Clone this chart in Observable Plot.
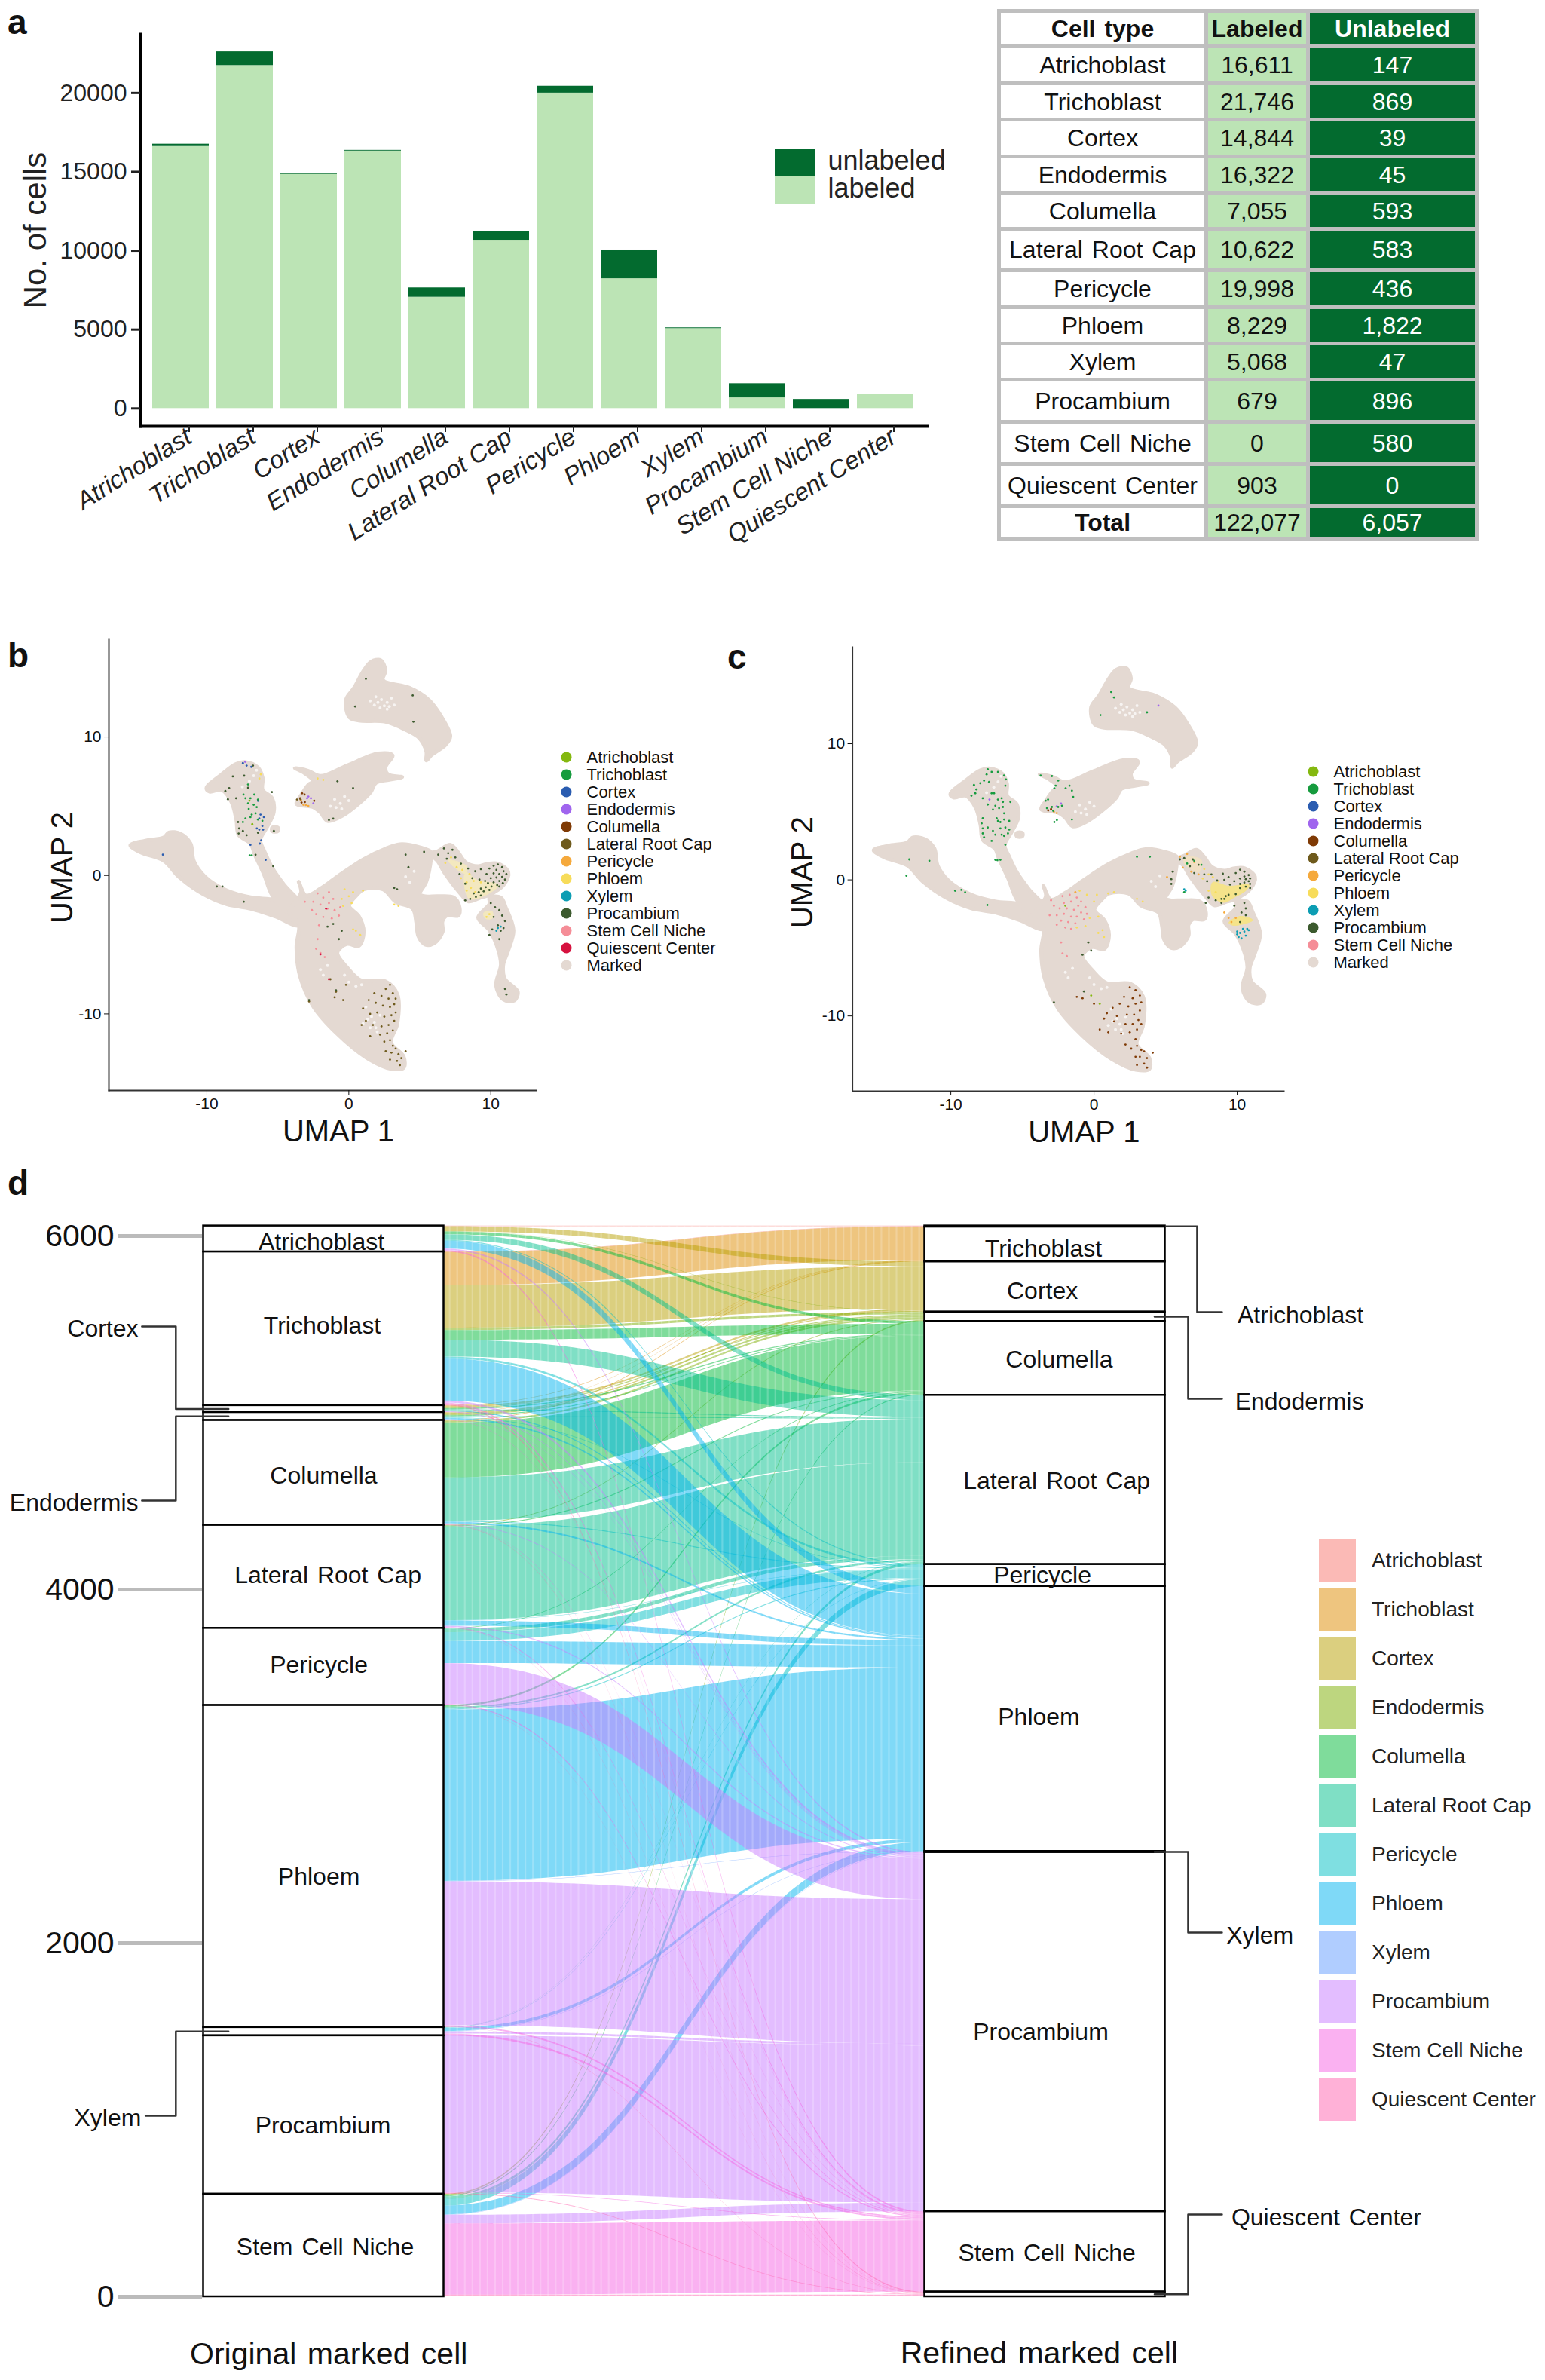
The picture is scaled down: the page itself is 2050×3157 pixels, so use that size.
<!DOCTYPE html>
<html><head><meta charset="utf-8">
<script src="https://cdn.jsdelivr.net/npm/d3@7"></script>
<script src="https://cdn.jsdelivr.net/npm/@observablehq/plot@0.6"></script>
<style>
html,body{margin:0;padding:0;background:#fff}
#page{position:relative;width:2050px;height:3157px;overflow:hidden;font-family:"Liberation Sans",Arial,sans-serif;color:#111}
.letter{position:absolute;font-weight:bold;font-size:46px;line-height:46px}
#tbl{position:absolute;left:1323px;top:12px;border-collapse:collapse;table-layout:fixed;font-size:32px;text-align:center}
#tbl td{border:5px solid #bfbfbf;padding:0;word-spacing:3px;line-height:1;white-space:nowrap;overflow:hidden}
#tbl .lab{background:#bce4b5}
#tbl .unl{background:#036b2f;color:#fff}
#tbl .b{font-weight:bold}
svg{max-width:none!important}
</style></head><body><div id="page"></div>
<script>
const FONT='"Liberation Sans",Arial,sans-serif';
/* ---------- panel a and table data ---------- */
const cellTypes=["Atrichoblast","Trichoblast","Cortex","Endodermis","Columella","Lateral Root Cap","Pericycle","Phloem","Xylem","Procambium","Stem Cell Niche","Quiescent Center"];
const labeled=[16611,21746,14844,16322,7055,10622,19998,8229,5068,679,0,903];
const unlabeled=[147,869,39,45,593,583,436,1822,47,896,580,0];
const totals=["122,077","6,057"];
const yTicksA=[0,5000,10000,15000,20000];
const rowHeights=[47,49,48,49,48,48,55,49,48,48,56,56,56,43];

/* ---------- UMAP outline, traced in UMAP units ---------- */
const shapeTop=[[1.56,15.43],[2.24,15.55],[2.58,14.8],[2.41,14.1],[4.27,13.55],[5.63,12.68],[6.47,11.55],[7.15,10.05],[6.81,9.43],[5.8,8.68],[5.46,8.3],[5.46,8.93],[4.95,9.93],[3.93,10.55],[2.58,11.1],[0.71,11.18],[0.03,11.43],[-0.2,12.68],[0.37,13.55],[1.05,14.8]];
const shapeMid=[[-3.8,7.75],[-2.85,7.55],[-2,7.18],[-0.14,7.93],[2.07,8.8],[3.08,8.68],[2.58,7.8],[2.75,7.3],[3.76,7.1],[2.92,6.93],[1.9,6.68],[1.56,6.05],[0.54,5.05],[-0.47,4.3],[-1.49,3.93],[-2,4.55],[-2.51,4.93],[-3.69,5.18],[-3.36,5.8],[-2.85,6.55],[-2.51,6.8],[-3.19,7.43]];
const shapeArm=[[-15.39,2.18],[-14.37,2.5],[-13.02,2.75],[-12.68,3.1],[-11.83,3.0],[-11.15,2.3],[-10.92,1.05],[-10.14,-0.08],[-8.61,-1.08],[-6.92,-1.58],[-5.22,-1.75],[-3.5,-2.2],[-3.5,-3.6],[-5.22,-2.95],[-6.92,-2.4],[-8.61,-2.08],[-10.3,-1.33],[-12,-0.08],[-13.02,1.05],[-14.71,1.68]];
const shapeWedge=[[-10.03,6.3],[-8.95,7.3],[-7.93,8.05],[-7.25,8.18],[-6.41,7.8],[-6.07,7.05],[-6.07,6.18],[-5.39,5.55],[-5.29,4.55],[-5.73,3.55],[-6.24,2.55],[-5.97,1.8],[-5.39,0.55],[-4.54,-0.7],[-3.36,-2.2],[-4.2,-2.7],[-5.39,-1.45],[-5.97,0.05],[-6.64,1.55],[-6.92,2.3],[-7.76,2.93],[-7.93,4.05],[-8.27,5.3],[-8.95,6.18],[-9.8,6.05]];
const shapeBody=[[-3.53,-0.45],[-3.02,-1.45],[-2,-0.95],[-0.81,-0.08],[1.05,1.18],[2.58,1.93],[3.59,2.25],[4.95,2.05],[5.8,1.68],[5.8,1.3],[5.46,-0.45],[5,-1.35],[5.3,-1.5],[6.3,-1.5],[7.4,-1.6],[7.8,-2.3],[7.7,-2.9],[6.9,-2.9],[6.6,-3.3],[6.6,-4.1],[6,-4.9],[5.4,-5],[4.9,-4.4],[4.75,-3.4],[4.5,-2.4],[3.3,-1.9],[2.41,-1],[1.05,-1],[0.54,-1.45],[0.03,-2.2],[0.71,-2.95],[1.05,-4.08],[0.71,-5.08],[-0.14,-4.95],[-0.81,-5.58],[-0.07,-6.7],[0.88,-7.58],[2.58,-7.65],[3.42,-8.58],[3.42,-10.7],[2.98,-12.08],[3.86,-13.08],[3.86,-13.9],[2.92,-13.95],[1.22,-13.15],[-0.81,-11.45],[-2.51,-9.45],[-3.46,-7.2],[-3.69,-5.2],[-3.53,-3.45],[-4.2,-2.7],[-3.36,-1.2]];
const shapeArc=[[5.8,1.55],[6.28,1.76],[7.16,2.21],[7.7,1.67],[8.23,0.94],[9.1,0.67],[9.82,0.85],[10.53,0.85],[11.24,0.22],[10.9,-0.69],[9.9,-1.4],[9.29,-1.6],[8.4,-1.87],[7.87,-1.33],[6.72,0.22],[6.28,1]];
const shapeTail=[[9.91,-1.6],[10.71,-1.6],[11.06,-2.32],[11.6,-3.96],[11.22,-5.45],[10.88,-6.45],[10.98,-7.45],[11.9,-8.4],[11.66,-9.03],[10.88,-8.95],[10.37,-7.95],[10.71,-6.45],[10.53,-5.41],[9.91,-3.96],[9.11,-3.05],[9.91,-2.05]];
const shapeSpeck=[[-5.4,3.45],[-5,3.45],[-5,3.2],[-5.4,3.2]];
const umapShapes=[shapeTop,shapeMid,shapeArm,shapeWedge,shapeBody,shapeArc,shapeTail,shapeSpeck];
const umapGaps=[[1.9,12.9],[2.3,12.7],[2.7,12.5],[1.8,12.3],[2.2,12.1],[2.7,12],[3,12.8],[3.2,12.3],[1.5,12.6],[2.05,12.5],[2.5,12.25],[2.85,12.2],[1.3,-10.4],[1.8,-10.6],[2.2,-10.1],[1.5,-11],[2,-11.3],[0.5,-8],[0.9,-7.9],[-0.3,-7.2],[0,-7.7],[1.2,-9.5],[1.6,-10.2],[1.9,-11],[1,-10.7],[-1,5.5],[-0.6,5.2],[-0.3,5.7],[-1.3,5],[0,5.4],[-0.9,4.9],[-0.5,4.8],[-7,6.8],[-6.7,7.2],[-7.5,6.4],[-6.5,7.6],[-2,-6.8],[-1.5,-6.5],[-1.8,-7.2],[4,-0.1],[4.3,-0.5],[4.6,0.3]];

const patchB=[[[8.23,0.22],[9.02,-0.33],[10.53,-0.69],[9.65,-1.42],[8.49,-1.69],[8.14,-0.69]],[[6.99,1.12],[8.3,0.67],[8.23,0.13],[7.34,0.67]],[[9.5,-2.7],[10.1,-2.6],[10.1,-3.1],[9.6,-3.1]]];
const patchC=[[[8.28,-0.19],[9.42,-0.47],[10.82,-0.37],[10.65,-0.74],[9.77,-1.3],[9.07,-1.66],[8.28,-1.2]],[[9.42,-3.14],[10.21,-2.68],[11.09,-2.96],[10.47,-3.23],[9.68,-3.33]]];
const patchCup=[[[6.44,1.66],[7.49,1.47],[7.32,0.55],[6.26,1.29]]];

/* marked cells */
const bTrichoblast=[[-7.42,5.84],[-7.28,5.57],[-6.93,5.57],[-7.1,5.2],[-6.66,5.84],[-6.4,5.48],[-6.49,4.93],[-6.84,4.39],[-6.57,4.48],[-6.4,4.03],[-6.93,4.21],[-7.28,4.12],[-6.09,3.94],[-7.46,3.85],[-7.1,6.57],[-6.98,1.45],[-6.84,1.45],[-6.7,5.1],[-7.05,4.8]];
const bCortex=[[-7.46,8.11],[-7.2,7.93],[-6.87,7.84],[-6.4,5.39],[-6.22,4.39],[-6.31,4.12],[-5.99,4.21],[-6.09,3.57],[-6.31,3.3],[-6.04,3.3],[-6.48,3.39],[-6.17,2.54],[-6.93,2.21],[-6.27,2.3],[-5.86,1.12],[-13.1,1.5]];
const bEndodermis=[[-2.85,5.7],[-2.67,5.57],[-2.5,5.2],[-2.94,5.57],[-7.3,8.2]];
const bColumella=[[-3.29,5.93],[-3.43,5.57],[-3.33,5.26],[-3.12,5.84],[-2.44,5.39],[-3.1,5.3]];
const bLRC=[[2.9,-7.9],[2.6,-8.2],[3.1,-8.5],[3.3,-8.9],[2.8,-8.9],[2.3,-8.7],[1.8,-8.5],[3.2,-9.3],[2.9,-9.5],[2.4,-9.4],[1.9,-9.2],[1.4,-9],[3.3,-9.9],[3,-10.1],[2.5,-10.2],[2,-9.9],[1.5,-10],[1,-9.6],[3.2,-10.5],[2.8,-10.8],[2.3,-10.9],[1.7,-10.8],[1.2,-10.5],[3.1,-11.2],[2.7,-11.4],[2.2,-11.5],[1.5,-11.6],[0.9,-10.8],[2.9,-11.9],[2.5,-12],[3.1,-12.3],[3.3,-12.5],[3.5,-12.9],[3,-12.8],[2.6,-12.7],[3.7,-13.2],[3.4,-13.4],[2.9,-13.3],[3.6,-13.7],[4,-12.7],[-0.2,-7.9],[-0.9,-8.4],[-1,-8.8],[-0.4,-9],[-2.8,-9.1],[-1.3,-7.5],[-3.65,5.48],[-3.4,5.5]];
const bPericycle=[[-3.03,5.08],[-3.38,5.44],[-2.85,5.02],[-3.2,5.1]];
const bPhloem=[[-0.5,-1.7],[0,-1.5],[0.3,-1.2],[-0.3,-1],[0.2,-2],[-0.4,-2.2],[0.5,-4],[0.8,-4.3],[0.3,-3.9],[3.2,-2.1],[3.5,-2.2],[7.2,1.3],[6.8,0.9],[7.6,0.6],[8,0.4],[7.9,-0.2],[8.3,-0.5],[8.6,-0.9],[8.3,-1.1],[8.8,-0.4],[8.5,0.1],[9.3,-0.5],[8.9,-1.2],[-6.2,7.3],[-6.3,7],[-2.2,7],[-1.8,6.9],[1,-1.1],[9.7,-3],[9.9,-2.8]];
const bProcambium=[[10.5,0.8],[10.2,0.7],[10.8,0.6],[9.9,0.5],[10.4,0.4],[10.9,0.3],[11.1,0.1],[10.6,0.1],[10.2,0.15],[9.7,0.1],[10.8,-0.1],[10.4,-0.15],[10,-0.2],[11,-0.3],[10.6,-0.4],[10.2,-0.5],[9.8,-0.55],[10.85,-0.55],[10.45,-0.7],[10.05,-0.8],[9.65,-0.85],[9.3,-0.95],[10.6,-0.8],[9.9,-1.05],[9.5,-1.15],[9.15,-1.2],[8.8,-1.3],[9.3,-1.45],[8.95,-1.55],[8.55,-1.7],[8.2,-1.8],[9.6,-0.4],[9.2,-0.3],[8.7,-0.2],[8.9,0.3],[9.3,0.45],[8.4,0.5],[7.9,0.85],[7.5,1.3],[7,1.6],[6.7,1.95],[6.3,1.5],[7.3,1.85],[6.9,1.2],[8.2,-0.6],[7.8,0.1],[10,-2],[10.3,-2.3],[10.6,-2.5],[10.8,-2.9],[10.2,-3],[10.5,-3.6],[10.7,-4],[10.9,-3.8],[11,-3.3],[10.1,-3.9],[9.9,-4.3],[10.6,-4.6],[-7.8,3.85],[-7.73,3.39],[-7.76,3.03],[-7.46,3.21],[-7.2,2.9],[-6.4,3.08],[-8.17,7.15],[-7.37,7.2],[-8.43,6.3],[-8.7,6.1],[-8.52,5.5],[-7.94,5.57],[-6.75,7.93],[-7.1,6.33],[-5.42,6.02],[-6.57,1.49],[-5.33,0.67],[-5.28,3.21],[5.3,1.7],[4.2,0.6],[4,1.5],[3.4,-1],[3.2,-0.9],[1.2,14.2],[0.45,12.2],[4.5,13],[4.55,11.1],[-0.8,6.8],[0.3,6.3],[-1.1,-3.5],[-1.5,-3.7],[-0.5,-4],[-0.7,-4.6],[-8.9,-0.8],[-9.3,-0.8],[-7.4,-1.9],[-2.8,-9],[-0.9,-8.3],[11,-8.2],[11.1,-8.6],[-1.1,4.1],[-1.4,4]];
const bSCN=[[-2.2,-1.3],[-1.8,-1.6],[-1.4,-1.2],[-1.1,-1.7],[-2,-2.1],[-1.5,-2.4],[-1,-2.5],[-0.6,-2.3],[-2.3,-2.8],[-1.8,-3],[-1.2,-3.1],[-2.1,-3.6],[-2.2,-4.6],[-2.3,-5.3],[-2,-5.6],[-1.7,-5.9],[-1.4,-2],[-0.7,-2.9],[-2.5,-1.9],[-2.6,-2.5],[-3.1,-1.9]];
const bQC=[[-2,-5.7],[-1.4,-7.5],[-1.6,-2.4]];
const bXylem=[[10.5,-3.8],[10.7,-3.7],[10.4,-4]];
const bAtrichoblast=[[-7,5.4],[-6.8,3.7]];
/* marked cells */
const cTrichoblast=[[-7.42,8.12],[-7.5,7.75],[-7.15,7.93],[-6.71,7.93],[-6.28,7.66],[-6.15,7.38],[-7.33,7.19],[-7.94,7.1],[-8.38,6.97],[-8.21,6.64],[-7.68,7.29],[-6.19,6.92],[-8.56,6.18],[-8.29,6.36],[-7.15,6.36],[-6.98,6.36],[-7.77,5.99],[-6.45,5.99],[-6.71,5.9],[-6.36,5.72],[-6.89,5.44],[-7.06,5.16],[-6.63,5.26],[-6.36,5.35],[-7.42,5.53],[-5.84,5.72],[-6.28,4.89],[-7.77,4.52],[-7.85,4.15],[-6.71,4.33],[-6.54,4.24],[-6.28,4.43],[-5.92,4.33],[-6.8,4.52],[-7.42,3.84],[-7.77,3.78],[-7.06,3.6],[-6.54,3.78],[-6.19,3.84],[-5.92,3.69],[-7.77,3.41],[-7.68,3.13],[-6.89,3.32],[-6.45,3.32],[-6.28,3.23],[-6.01,3.41],[-7.15,2.86],[-6.19,2.58],[-6.89,1.47],[-6.75,1.44],[-6.54,1.47],[-9,-0.92],[-9.7,-0.8],[-9.26,-0.74],[-7.45,-1.85],[-3.38,5.81],[-3.21,5.9],[-2.94,5.35],[-3.29,5.26],[-2.68,6.92],[-2.77,6.73],[-1.98,6.73],[-1.71,6.92],[-1.54,6.55],[-1.45,6.09],[-2.5,5.35],[-2.24,5.44],[-2.85,5.07],[-2.77,4.24],[-2.59,4.39],[-3.73,7.66],[-2.94,7.62],[-1.54,4.43],[-2.5,7.29],[1.2,13.8],[1.4,13.4],[0.45,12.1],[3.7,12.3],[6.3,-0.9],[7,1.4],[7.5,1.1],[6.5,1.2],[-12.9,1.5],[-11.5,1.4],[-13.1,0.3],[3,1.7],[3.9,1.7]];
const cColumella=[[2.5,-7.9],[2.9,-8.1],[3.2,-8.5],[2.7,-8.7],[2.1,-8.6],[3.3,-9],[2.9,-9.1],[2.4,-9.3],[1.8,-9.1],[1.3,-9.4],[3.2,-9.6],[2.8,-9.9],[2.3,-9.9],[1.6,-10],[0.9,-9.8],[3.1,-10.3],[3.3,-10.6],[2.7,-10.6],[2.2,-10.6],[1.4,-10.4],[0.7,-10.2],[3,-11],[2.5,-11.2],[1.9,-11.3],[1,-11.2],[0.4,-11],[2.9,-11.7],[3,-12.2],[2.6,-12.4],[2.2,-12.1],[3.3,-12.5],[3.5,-12.6],[3.2,-13],[2.9,-13],[3.7,-13.1],[4.1,-12.7],[3.5,-13.5],[3,-13.6],[3.7,-13.8],[0,-9.1],[-0.8,-8.7],[-1.2,-8.6],[-3,5.2],[-3.2,5.1]];
const cSCN=[[-2.2,-1.2],[-1.7,-1.1],[-1.2,-1.3],[-0.9,-1.6],[-2.1,-1.7],[-1.6,-1.6],[-1.1,-1.9],[-0.6,-2],[-2.4,-2.1],[-1.9,-2.1],[-1.4,-2.2],[-0.9,-2.4],[-0.5,-2.5],[-2.1,-2.5],[-1.6,-2.7],[-1.2,-2.7],[-0.7,-2.9],[-2.3,-3],[-1.8,-3.1],[-1.3,-3.2],[-2.6,-2.6],[-2.8,-1.9],[-3,-1.5],[-2,-3.5],[-1.6,-3.6],[-2.2,-5.4],[-1.9,-5.6],[-2.3,-4.6],[-3.1,-2.6],[-2.6,-3.3]];
const cPericycle=[[6,1.7],[6.5,1.9],[7,1.3],[6.8,0.6],[7.3,0.4],[6.2,0.9],[9.1,-2.4],[9.4,-2.8],[9.6,-3.1],[9.9,-2.8],[5.1,0.2],[-1.3,-0.9],[-2.8,5],[-2.6,4.9]];
const cPhloem=[[-0.5,-1.1],[0,-1.6],[-0.3,-2.8],[0.3,-2.7],[0.6,-3.7],[0.7,-4.2],[0.3,-3.9],[-0.6,-3.4],[0.2,-1.1],[1,-1],[1.4,-0.9],[3,-1.4],[3.4,-1.6],[-1,-0.8],[-1.2,-3.5],[7.7,0.8],[8,0.4],[7.6,0.1],[8.3,0.2],[8.7,-0.1],[8,-0.8],[8.5,-0.9]];
const cProcambium=[[10.2,0.75],[10.5,0.6],[9.9,0.5],[10.8,0.35],[10.5,0.25],[10.9,0.1],[10.6,0.05],[10.2,0.1],[10.8,-0.1],[10.5,-0.2],[10.9,-0.3],[10.2,-0.3],[9.8,-0.1],[10.6,-0.5],[10.9,-0.6],[9.4,0.2],[9.1,0],[9,0.45],[8.6,-0.05],[8.2,0.4],[9.5,-0.35],[10.2,-0.6],[9.9,-1.05],[9.4,-1.1],[9.2,-1.2],[9.1,-1.4],[8.9,-1.4],[8.5,-1.5],[8.9,-1.7],[8,-1.3],[7.8,-1.7],[9.8,-1.9],[10.5,-1.7],[10.6,-2.1],[10.3,-2.4],[10.6,-2.6],[10.2,-3.1],[7.3,1.1],[6.9,1.5],[6.3,1.6],[6,1.5],[6.7,1],[7,0.5],[7.7,0.4],[7.9,-0.1],[5.5,0.6],[5.4,0.05],[5.4,-0.3],[-0.8,-5.5],[-0.2,-5.2],[-0.4,-4.6],[-2.8,-9],[-0.7,-8.2]];
const cXylem=[[10,-3.8],[10.2,-3.9],[10.4,-3.6],[10.7,-3.6],[10.5,-3.8],[10,-4],[10.6,-4.1],[10.3,-4.3],[10.1,-4.2],[10.8,-3.7],[6.4,-0.8],[6.3,-0.7]];
const cAtrichoblast=[[0.4,-9.1],[-0.2,-8.5],[-2,-1.9]];
const cEndodermis=[[-2.3,5.6],[-2.6,5.4],[-7.3,5.9],[4.5,12.8]];

/* ---------- legends ---------- */
const umapLegendB=["Atrichoblast","Trichoblast","Cortex","Endodermis","Columella","Lateral Root Cap","Pericycle","Phloem","Xylem","Procambium","Stem Cell Niche","Quiescent Center","Marked"];
const umapLegendC=umapLegendB.filter(d=>d!=="Quiescent Center");
const umapColors={"Atrichoblast":"#84b80f","Trichoblast":"#169b3e","Cortex":"#2a5cb0","Endodermis":"#a065ee","Columella":"#7f3a05","Lateral Root Cap":"#6e5a1c","Pericycle":"#f5a93c","Phloem":"#f7dc5a","Xylem":"#0c9db3","Procambium":"#3c5a2e","Stem Cell Niche":"#f58d97","Quiescent Center":"#d6123f","Marked":"#e4d9d2"};
const hue={"Atrichoblast":"#F8766D","Trichoblast":"#DE8C00","Cortex":"#B79F00","Endodermis":"#7CAE00","Columella":"#00BA38","Lateral Root Cap":"#00C08B","Pericycle":"#00BFC4","Phloem":"#00B4F0","Xylem":"#619CFF","Procambium":"#C77CFF","Stem Cell Niche":"#F564E3","Quiescent Center":"#FF64B0"};

/* ---------- panel d: cells moved from each original type (row) to each refined type (same order as cellTypes) ---------- */
const fromAtrichoblast=[4,0,28,2,16,30,6,44,0,8,9,0];
const fromTrichoblast=[2,188,240,14,55,94,12,238,0,12,8,6];
const fromCortex=[0,3,10,5,6,5,0,6,0,4,0,0];
const fromEndodermis=[0,2,6,10,5,6,3,8,0,3,2,0];
const fromColumella=[0,4,0,10,311,245,5,10,0,4,2,2];
const fromLRC=[0,0,0,4,5,530,2,30,0,6,4,2];
const fromPericycle=[0,0,0,0,4,20,50,125,0,230,6,1];
const fromPhloem=[0,0,0,0,10,10,5,970,2,815,8,2];
const fromXylem=[0,0,0,0,0,2,3,18,2,12,10,0];
const fromProcambium=[0,0,0,0,0,0,0,0,0,889,3,4];
const fromSCN=[0,0,0,8,6,15,38,50,2,49,402,10];
const flowMatrix=[fromAtrichoblast,fromTrichoblast,fromCortex,fromEndodermis,fromColumella,fromLRC,fromPericycle,fromPhloem,fromXylem,fromProcambium,fromSCN,new Array(12).fill(0)];
const yTicksD=[0,2000,4000,6000];

const page=document.getElementById("page");
function place(el,left,top){el.style.position="absolute";el.style.left=left+"px";el.style.top=top+"px";page.appendChild(el);return el;}
function letter(t,l,tp){const d=document.createElement("div");d.className="letter";d.textContent=t;d.style.left=l+"px";d.style.top=tp+"px";page.appendChild(d);}
letter("a",10,6);letter("b",10,846);letter("c",965,848);letter("d",10,1546);

/* ---------- panel a ---------- */
const stackRows=cellTypes.flatMap((t,i)=>[{type:t,kind:"labeled",n:labeled[i]},{type:t,kind:"unlabeled",n:unlabeled[i]}]);
const barColor={domain:["labeled","unlabeled"],range:["#bce4b5","#036b2f"]};
place(Plot.plot({
  width:1300,height:745,marginLeft:186,marginRight:70,marginTop:45,marginBottom:180,
  style:{fontFamily:FONT,background:"transparent",color:"#222"},
  x:{domain:cellTypes,range:[187,1227],padding:0.114,label:null},
  y:{domain:[-1133,23720],label:null},
  color:barColor,
  marks:[
    Plot.barY(stackRows,{x:"type",y:"n",fill:"kind",order:barColor.domain}),
    Plot.frame({anchor:"left",stroke:"#000",strokeWidth:4}),
    Plot.frame({anchor:"bottom",stroke:"#000",strokeWidth:4}),
    Plot.axisY({ticks:yTicksA,tickSize:12,tickPadding:6,fontSize:32,strokeWidth:3,tickFormat:d=>String(d),label:null}),
    Plot.axisX({tickSize:8,tickPadding:3,strokeWidth:2,fontSize:33,fontStyle:"italic",tickRotate:-32,dx:11,label:null}),
    Plot.text(["No. of cells"],{frameAnchor:"left",textAnchor:"middle",dx:-139,rotate:-90,fontSize:42,fill:"#222"})
  ]
}),0,0);
place(Plot.plot({
  width:260,height:84,marginLeft:8,marginRight:0,marginTop:0,marginBottom:0,axis:null,
  style:{fontFamily:FONT,background:"transparent"},
  x:{domain:["k"],range:[8,62],padding:0,axis:null},
  y:{domain:["unlabeled","labeled"],range:[4,80],padding:0.02,axis:null},
  color:barColor,
  marks:[
    Plot.cell(["unlabeled","labeled"],{x:()=>"k",y:d=>d,fill:d=>d}),
    Plot.text(["unlabeled","labeled"],{y:d=>d,text:d=>d,frameAnchor:"left",dx:70,fontSize:36,fill:"#222",textAnchor:"start",dy:-2})
  ]
}),1020,192);

/* ---------- table ---------- */
const tbl=document.createElement("table");tbl.id="tbl";
tbl.innerHTML='<colgroup><col style="width:275px"><col style="width:135px"><col style="width:224px"></colgroup>';
const rowsT=[["Cell type","Labeled","Unlabeled"],...cellTypes.map((t,i)=>[t,labeled[i].toLocaleString("en-US"),unlabeled[i].toLocaleString("en-US")]),["Total",...totals]];
rowsT.forEach((r,i)=>{const tr=document.createElement("tr");tr.style.height=rowHeights[i]+"px";
  r.forEach((c,j)=>{const td=document.createElement("td");td.textContent=c;td.style.height=(rowHeights[i]-5)+"px";
    td.className=(j==1?"lab ":j==2?"unl ":"")+((i==0)||(i==13&&j==0)?"b":"");tr.appendChild(td);});
  tbl.appendChild(tr);});
page.appendChild(tbl);

/* ---------- panels b, c ---------- */
function dotRows(lists){return Object.entries(lists).flatMap(([k,pts])=>pts.map(p=>({x:p[0],y:p[1],k})));}
function polyRows(polys){return polys.flatMap((p,i)=>p.map(q=>({x:q[0],y:q[1],id:i})));}
function umap(o){
  const fill=umapColors.Marked;
  const dots=dotRows(o.dots);
  const svg=Plot.plot({
    width:o.width,height:o.height,marginLeft:o.ml,marginRight:o.mr,marginTop:o.mt,marginBottom:o.mb,
    style:{fontFamily:FONT,background:"transparent",color:"#111"},
    x:{domain:o.xd,label:null},y:{domain:o.yd,label:null},
    marks:[
      Plot.line(polyRows(umapShapes),{x:"x",y:"y",z:"id",fill,stroke:fill,strokeWidth:5,curve:"catmull-rom-closed"}),
      Plot.dot(umapGaps.map(p=>({x:p[0],y:p[1]})),{x:"x",y:"y",r:2,fill:"#fff",fillOpacity:0.7}),
      ...o.patches.map(([polys,c])=>Plot.line(polyRows(polys),{x:"x",y:"y",z:"id",fill:c,stroke:c,strokeWidth:1,curve:"catmull-rom-closed"})),
      Plot.dot(dots,{x:"x",y:"y",r:1.4,fill:d=>umapColors[d.k]}),
      Plot.frame({anchor:"left",stroke:"#333",strokeWidth:2}),
      Plot.frame({anchor:"bottom",stroke:"#333",strokeWidth:2}),
      Plot.axisX({ticks:[-10,0,10],tickSize:6,tickPadding:4,fontSize:21,tickFormat:d=>String(d),label:null}),
      Plot.axisY({ticks:[-10,0,10],tickSize:6,tickPadding:4,fontSize:21,tickFormat:d=>String(d),label:null}),
      Plot.text(["UMAP 1"],{frameAnchor:"bottom",dx:21,dy:67,fontSize:40}),
      Plot.text(["UMAP 2"],{frameAnchor:"left",textAnchor:"middle",dx:o.ly,dy:4,rotate:-90,fontSize:40})
    ]
  });
  place(svg,o.left,o.top);
  place(Plot.plot({
    width:260,height:(o.legend.length-1)*o.step+32,marginLeft:0,marginRight:0,marginTop:0,marginBottom:0,
    style:{fontFamily:FONT,background:"transparent",color:"#111"},
    x:{domain:[0,1],range:[0,1],axis:null},
    y:{type:"point",padding:0,domain:o.legend,range:[16,16+(o.legend.length-1)*o.step],axis:null},
    color:{type:"identity"},
    marks:[
      Plot.dot(o.legend,{y:d=>d,frameAnchor:"left",dx:10,r:7,fill:d=>umapColors[d]}),
      Plot.text(o.legend,{y:d=>d,text:d=>d,frameAnchor:"left",dx:37,fontSize:22,textAnchor:"start"})
    ]
  }),o.lx,o.ly0);
}
umap({left:0,top:820,width:760,height:720,ml:144,mr:49,mt:27,mb:94,xd:[-16.9,13.2],yd:[-15.53,17.08],ly:-61,
  legend:umapLegendB,step:23.6,lx:741,ly0:984,
  patches:[[patchB,"#f3e8bf"]],
  dots:{"Phloem":bPhloem,"Pericycle":bPericycle,"Endodermis":bEndodermis,"Stem Cell Niche":bSCN,"Xylem":bXylem,"Cortex":bCortex,"Trichoblast":bTrichoblast,"Atrichoblast":bAtrichoblast,"Columella":bColumella,"Lateral Root Cap":bLRC,"Quiescent Center":bQC,"Procambium":bProcambium}});
umap({left:1000,top:820,width:760,height:720,ml:130.6,mr:57,mt:38,mb:93,xd:[-16.87,13.26],yd:[-15.53,17.09],ly:-65.6,
  legend:umapLegendC,step:23.37,lx:1732,ly0:1005,
  patches:[[patchCup,"#f0e0c4"],[patchC,"#f5e38a"]],
  dots:{"Phloem":cPhloem,"Pericycle":cPericycle,"Endodermis":cEndodermis,"Stem Cell Niche":cSCN,"Xylem":cXylem,"Trichoblast":cTrichoblast,"Atrichoblast":cAtrichoblast,"Columella":cColumella,"Procambium":cProcambium}});

/* ---------- panel d ---------- */
const total=d3.sum(unlabeled);
const hw=1/6; // half the stratum width on the axis scale
const rightTotals=cellTypes.map((_,j)=>d3.sum(flowMatrix,r=>r[j]));
function stack(vals){let top=total;return vals.map(v=>{const s={hi:top,lo:top-v};top-=v;return s;});}
const leftStrata=stack(unlabeled);
const rightStrata=stack(rightTotals);
const leftUse=leftStrata.map(s=>s.hi),rightUse=rightStrata.map(s=>s.hi);
const ribbons=[];
flowMatrix.forEach((row,i)=>row.forEach((v,j)=>{
  if(!v)return;
  const a=leftUse[i];leftUse[i]-=v;
  ribbons.push({i,j,v,a});
}));
ribbons.forEach(r=>{r.b=rightUse[r.j];rightUse[r.j]-=r.v;});
const drawOrder=d3.sort(ribbons,r=>r.j);
const flowRows=drawOrder.flatMap((r,id)=>[
  {id,to:cellTypes[r.j],x:1+hw,y1:r.a,y2:r.a-r.v},
  {id,to:cellTypes[r.j],x:2-hw,y1:r.b,y2:r.b-r.v}]);
const stripes=d3.range(1+hw+0.008,2-hw,0.0105);
const axisPx=957, cellPx=0.2345;
/* label nudges in pixels: [along x, along y] */
const leftNudge={"Atrichoblast":[-3,0],"Trichoblast":[-2,-8],"Columella":[0,0],"Lateral Root Cap":[5.6,-6],"Pericycle":[-6.4,-6],"Phloem":[-6.4,10],"Procambium":[-1,10],"Stem Cell Niche":[2,-2]};
const rightNudge={"Trichoblast":[-2,2],"Cortex":[-3.4,2],"Columella":[19,-2],"Lateral Root Cap":[15.6,-2],"Pericycle":[-3.4,-4],"Phloem":[-8,-6],"Procambium":[-5.5,-4],"Stem Cell Niche":[2.6,-2]};
const nudge=d=>(d.ax==1?leftNudge:rightNudge)[d.t];
const stratumRows=[...cellTypes.map((t,i)=>({t,ax:1,...leftStrata[i]})),...cellTypes.map((t,i)=>({t,ax:2,...rightStrata[i]}))].filter(d=>d.hi>d.lo);
const labelRows=stratumRows.filter(d=>nudge(d)!==undefined);
const byName=(ax,t)=>stratumRows.find(d=>d.ax==ax&&d.t==t);
const mid=d=>(d.hi+d.lo)/2;
const leaders=[
  {t:"Cortex",ax:1,label:5488,lx:0.743,end:0.748},{t:"Endodermis",ax:1,label:4503,lx:0.743,end:0.748},{t:"Xylem",ax:1,label:1023,lx:0.747,end:0.753},
  {t:"Atrichoblast",ax:2,label:5569,elbow:2.211,start:2.168,lx:2.267},{t:"Endodermis",ax:2,label:5079,lx:2.2635},{t:"Xylem",ax:2,label:2060,lx:2.2515},{t:"Quiescent Center",ax:2,label:465,lx:2.2585}
];
const leaderRows=leaders.flatMap((l,id)=>{
  const m=mid(byName(l.ax,l.t));
  const pts=l.ax==1?[[0.868,m],[0.795,m],[0.795,l.label],[l.end,l.label]]
                   :[[l.start||2.152,m],[l.elbow||2.1985,m],[l.elbow||2.1985,l.label],[2.2455,l.label]];
  return pts.map(p=>({id,x:p[0],y:p[1]}));
});
place(Plot.plot({
  width:2050,height:1597,marginLeft:268,marginRight:0,marginTop:0,marginBottom:0,
  style:{fontFamily:FONT,background:"transparent",color:"#111",wordSpacing:"3px"},
  x:{domain:[1,2],range:[429,1386],axis:null},
  y:{domain:[0,6000],range:[1486,79],label:null},
  color:{type:"identity"},
  marks:[
    Plot.areaY(flowRows,{x:"x",y1:"y1",y2:"y2",z:"id",fill:d=>hue[d.to],fillOpacity:0.5,curve:"bump-x"}),
    Plot.ruleX(stripes,{y1:0,y2:total,stroke:"#fff",strokeOpacity:0.22,strokeWidth:2.2}),
    Plot.rect(stratumRows,{x1:d=>d.ax-hw,x2:d=>d.ax+hw,y1:"lo",y2:"hi",fill:"#fff",stroke:"#000",strokeWidth:2.5}),
    Plot.text(labelRows,{x:d=>d.ax+nudge(d)[0]/axisPx,y:d=>mid(d)-nudge(d)[1]/cellPx,text:"t",dy:4,fontSize:32,fill:"#111"}),
    Plot.line(leaderRows,{x:"x",y:"y",z:"id",stroke:"#333",strokeWidth:2.5}),
    Plot.text(leaders.filter(l=>l.ax==1),{x:"lx",y:"label",text:"t",textAnchor:"end",dy:3,fontSize:32}),
    Plot.text(leaders.filter(l=>l.ax==2),{x:"lx",y:"label",text:"t",textAnchor:"start",dy:4,fontSize:32}),
    Plot.axisY({ticks:yTicksD,tickSize:112,tickPadding:5,fontSize:41,stroke:"#bbb",strokeWidth:5,fill:"#111",tickFormat:d=>String(d),label:null}),
    Plot.text(["Original marked cell"],{x:1.007,y:-326,fontSize:41}),
    Plot.text(["Refined marked cell"],{x:1.992,y:-321,fontSize:41})
  ]
}),0,1560);
/* legend d */
place(Plot.plot({
  width:300,height:800,marginLeft:10,marginRight:0,marginTop:0,marginBottom:0,
  style:{fontFamily:FONT,background:"transparent",color:"#222"},
  x:{domain:["k"],range:[10,59],padding:0,axis:null},
  y:{domain:cellTypes,range:[2.4,791.7],padding:0.11,axis:null},
  color:{type:"identity"},
  marks:[
    Plot.cell(cellTypes,{x:()=>"k",y:d=>d,fill:d=>hue[d],fillOpacity:0.5}),
    Plot.text(cellTypes,{y:d=>d,text:d=>d,frameAnchor:"left",dx:69.5,textAnchor:"start",fontSize:28})
  ]
}),1740,2030);
</script></body></html>
